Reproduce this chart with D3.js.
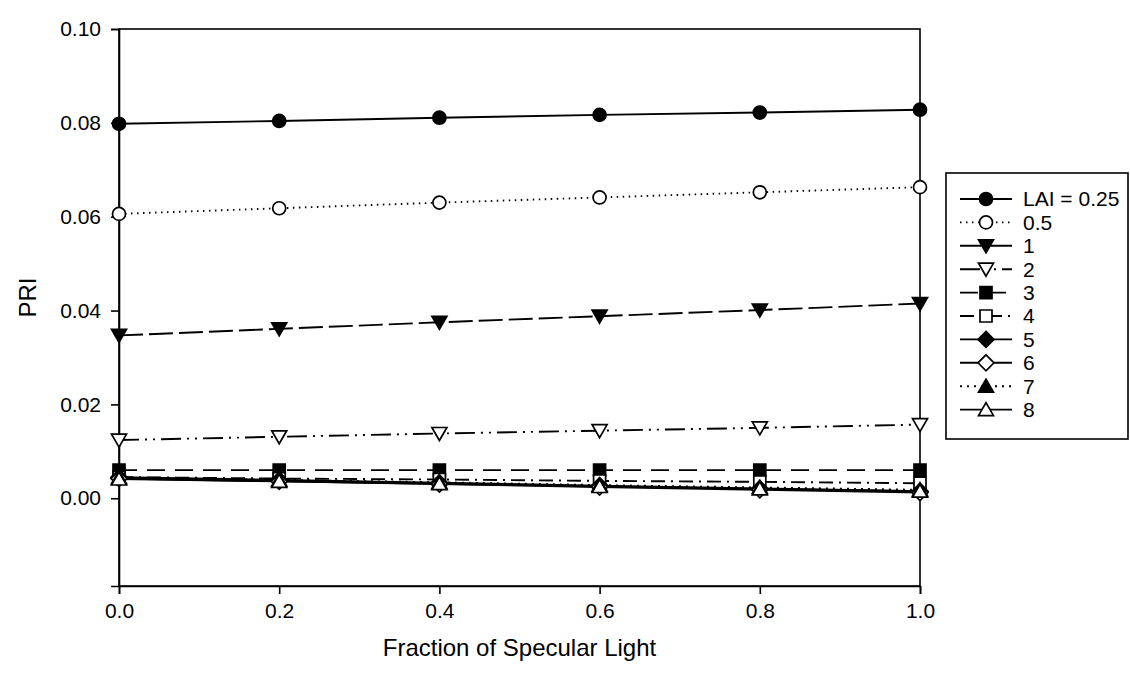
<!DOCTYPE html>
<html>
<head>
<meta charset="utf-8">
<script src="https://cdn.jsdelivr.net/npm/d3@7"></script>
<style>
  body { margin: 0; background: #fff; }
  svg { font-family: "Liberation Sans", Arial, sans-serif; }
</style>
</head>
<body>
<script>
// fraction of specular light on the x axis
const fractions = [0.0, 0.2, 0.4, 0.6, 0.8, 1.0];

// PRI values, one array per LAI
const lai025 = [0.0798, 0.0804, 0.0811, 0.0817, 0.0822, 0.0828];
const lai05  = [0.0606, 0.0618, 0.0630, 0.0641, 0.0652, 0.0663];
const lai1   = [0.0347, 0.0361, 0.0375, 0.0388, 0.0401, 0.0415];
const lai2   = [0.0124, 0.0131, 0.0138, 0.0144, 0.0150, 0.0157];
const lai3   = [0.0060, 0.0060, 0.0060, 0.0060, 0.0060, 0.0060];
const lai4   = [0.0045, 0.0042, 0.0040, 0.0037, 0.0035, 0.0032];
const lai5   = [0.0045, 0.0039, 0.0033, 0.0027, 0.0021, 0.0015];
const lai6   = [0.0042, 0.0036, 0.0030, 0.0024, 0.0018, 0.0012];
const lai7   = [0.0044, 0.0039, 0.0034, 0.0028, 0.0023, 0.0018];
const lai8   = [0.0041, 0.0036, 0.0031, 0.0025, 0.0020, 0.0015];

const legendLabels = ["LAI = 0.25", "0.5", "1", "2", "3", "4", "5", "6", "7", "8"];
const xTicks = [0.0, 0.2, 0.4, 0.6, 0.8, 1.0];
const yTicks = [0.00, 0.02, 0.04, 0.06, 0.08, 0.10];

const WIDTH = 1130;
const HEIGHT = 673;
const PLOT = { left: 119, right: 920, top: 29, bottom: 586 };

// marker / dash style of each series
const styles = [
    { sym: "circle",   fill: "#000", dash: null },
    { sym: "circle",   fill: "#fff", dash: "1.5 4.5" },
    { sym: "triDown",  fill: "#000", dash: "24 6" },
    { sym: "triDown",  fill: "#fff", dash: "20 6 2 6 2 6" },
    { sym: "square",   fill: "#000", dash: "18 10" },
    { sym: "square",   fill: "#fff", dash: "14 6 2 6" },
    { sym: "diamond",  fill: "#000", dash: null },
    { sym: "diamond",  fill: "#fff", dash: null },
    { sym: "triUp",    fill: "#000", dash: "2 5" },
    { sym: "triUp",    fill: "#fff", dash: null },
];

const series = [lai025, lai05, lai1, lai2, lai3, lai4, lai5, lai6, lai7, lai8]
    .map((vals, i) => ({ label: legendLabels[i], style: styles[i], values: vals }));

const svg = d3.select("body")
    .append("svg")
    .attr("width", WIDTH)
    .attr("height", HEIGHT);

const x = d3.scaleLinear().domain([0, 1]).range([PLOT.left, PLOT.right]);
const y = d3.scaleLinear().domain([-0.0187, 0.10]).range([PLOT.bottom, PLOT.top]);

function symbolPath(sym) {
    switch (sym) {
        case "circle":  return "M0,-6.5A6.5,6.5 0 1,1 0,6.5A6.5,6.5 0 1,1 0,-6.5Z";
        case "square":  return "M-6,-6H6V6H-6Z";
        case "diamond": return "M0,-8L8,0L0,8L-8,0Z";
        case "triUp":   return "M0,-7L7.5,6L-7.5,6Z";
        case "triDown": return "M0,7L7.5,-6L-7.5,-6Z";
    }
}

// frame
svg.append("rect")
    .attr("x", PLOT.left).attr("y", PLOT.top)
    .attr("width", PLOT.right - PLOT.left)
    .attr("height", PLOT.bottom - PLOT.top)
    .attr("fill", "none").attr("stroke", "#000").attr("stroke-width", 1.6);

// axes
const xAxis = svg.append("g")
    .attr("transform", `translate(0,${PLOT.bottom})`)
    .call(d3.axisBottom(x).tickValues(xTicks).tickFormat(d3.format(".1f")).tickSize(8).tickPadding(9));

const yAxis = svg.append("g")
    .attr("transform", `translate(${PLOT.left},0)`)
    .call(d3.axisLeft(y).tickValues(yTicks).tickFormat(d3.format(".2f")).tickSize(8).tickPadding(10));

[xAxis, yAxis].forEach(a => {
    a.select(".domain").attr("stroke-width", 1.6);
    a.selectAll(".tick line").attr("stroke-width", 1.6);
    a.selectAll(".tick text")
        .attr("font-size", 21)
        .attr("font-family", "Liberation Sans, Arial, sans-serif")
        .attr("fill", "#000");
});

svg.append("text")
    .attr("x", (PLOT.left + PLOT.right) / 2)
    .attr("y", 656)
    .attr("text-anchor", "middle")
    .attr("font-size", 24)
    .text("Fraction of Specular Light");

svg.append("text")
    .attr("transform", `translate(36,${(PLOT.top + PLOT.bottom) / 2 - 10}) rotate(-90)`)
    .attr("text-anchor", "middle")
    .attr("font-size", 24)
    .text("PRI");

// lines
const line = d3.line()
    .x((d, i) => x(fractions[i]))
    .y(d => y(d));

const seriesG = svg.append("g");

seriesG.selectAll("path.series")
    .data(series)
    .join("path")
    .attr("class", "series")
    .attr("d", d => line(d.values))
    .attr("fill", "none")
    .attr("stroke", "#000")
    .attr("stroke-width", 1.9)
    .attr("stroke-dasharray", d => d.style.dash);

// markers
series.forEach(s => {
    seriesG.append("g")
        .selectAll("path")
        .data(s.values)
        .join("path")
        .attr("transform", (d, i) => `translate(${x(fractions[i])},${y(d)})`)
        .attr("d", symbolPath(s.style.sym))
        .attr("fill", s.style.fill)
        .attr("stroke", "#000")
        .attr("stroke-width", 1.7);
});

// legend
const LEG = { x: 946, y: 173, w: 182, h: 266, row: 23.4 };
const legend = svg.append("g");

legend.append("rect")
    .attr("x", LEG.x).attr("y", LEG.y)
    .attr("width", LEG.w).attr("height", LEG.h)
    .attr("fill", "#fff").attr("stroke", "#000").attr("stroke-width", 1.6);

const rows = legend.selectAll("g.row")
    .data(series)
    .join("g")
    .attr("class", "row")
    .attr("transform", (d, i) => `translate(${LEG.x}, ${LEG.y + 26 + i * LEG.row})`);

rows.append("line")
    .attr("x1", 14).attr("x2", 66)
    .attr("stroke", "#000").attr("stroke-width", 1.9)
    .attr("stroke-dasharray", d => d.style.dash);

rows.append("path")
    .attr("transform", "translate(40,0)")
    .attr("d", d => symbolPath(d.style.sym))
    .attr("fill", d => d.style.fill)
    .attr("stroke", "#000").attr("stroke-width", 1.7);

rows.append("text")
    .attr("x", 77)
    .attr("dy", "0.35em")
    .attr("font-size", 21)
    .text(d => d.label);
</script>
</body>
</html>
